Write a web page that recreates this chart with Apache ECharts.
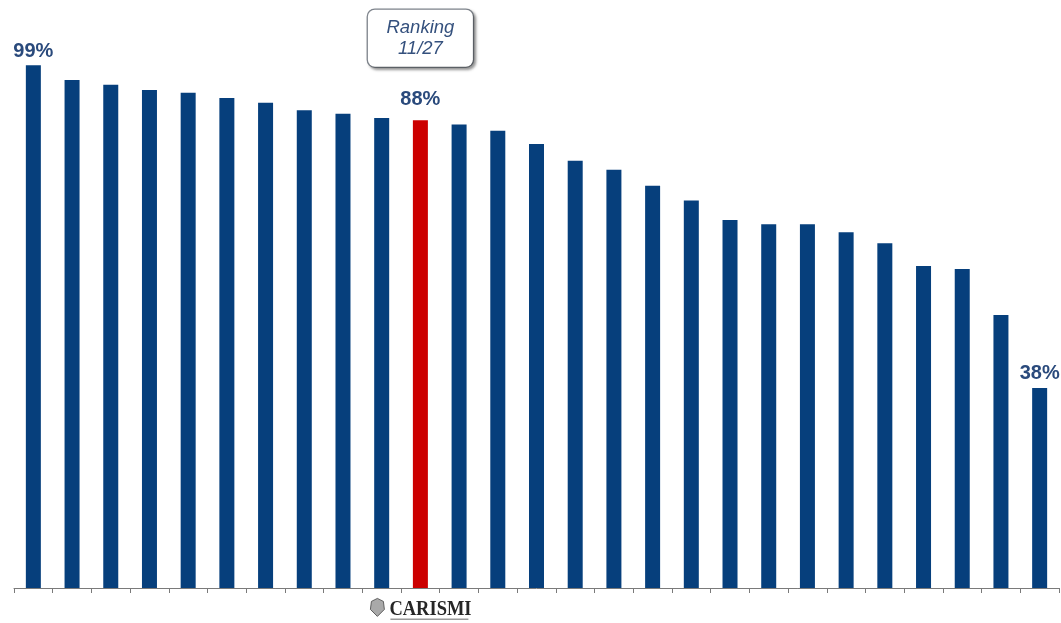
<!DOCTYPE html>
<html>
<head>
<meta charset="utf-8">
<script src="https://cdn.jsdelivr.net/npm/echarts@6/dist/echarts.min.js"></script>
<style>
  html, body { margin: 0; padding: 0; background: #fff; }
  #main { width: 1061px; height: 623px; }
</style>
</head>
<body>
<div id="main"></div>
<script>
// rank positions, 1 = best
var ranks = ['1', '2', '3', '4', '5', '6', '7', '8', '9', '10', '11', '12', '13', '14',
  '15', '16', '17', '18', '19', '20', '21', '22', '23', '24', '25', '26', '27'];
var values = [99.0, 96.2, 95.3, 94.3, 93.8, 92.8, 91.9, 90.5, 89.8, 89.0, 88.6, 87.8, 86.6, 84.1,
  80.9, 79.2, 76.2, 73.4, 69.7, 68.9, 68.9, 67.4, 65.3, 61.0, 60.4, 51.7, 37.9];
// shown labels (index -> text)
var shownLabels = { 0: '99%', 10: '88%', 26: '38%' };
var highlightIndex = 10;
var rankingText = ['Ranking', '11/27'];

var navy = '#063f7c';
var labelColor = '#2a4a7c';

var chartDom = document.getElementById('main');
var myChart = echarts.init(chartDom);

var barData = values.map(function (v, i) {
  var item = { value: v };
  if (i === highlightIndex) item.itemStyle = { color: '#cc0000' };
  if (shownLabels[i]) {
    item.label = {
      show: true,
      position: 'top',
      distance: i === highlightIndex ? 11 : 4,
      formatter: shownLabels[i]
    };
  }
  return item;
});

var option = {
  animation: false,
  grid: { left: 14, right: 2, top: 60, bottom: 35 },
  xAxis: {
    type: 'category',
    data: ranks,
    axisLine: { lineStyle: { color: '#7a7a7a', width: 1 } },
    axisTick: { show: true, interval: 0, length: 5, lineStyle: { color: '#7a7a7a' } },
    axisLabel: { show: false }
  },
  yAxis: {
    type: 'value',
    min: 0,
    max: 100,
    show: false,
    splitLine: { show: false }
  },
  series: [
    {
      type: 'bar',
      data: barData,
      barWidth: 15,
      itemStyle: { color: navy },
      label: {
        show: false,
        color: labelColor,
        fontFamily: 'Liberation Sans, Arial, sans-serif',
        fontWeight: 'bold',
        fontSize: 20
      },
      markPoint: {
        symbol: 'rect',
        symbolSize: 1,
        itemStyle: { color: 'rgba(0,0,0,0)' },
        data: [
          {
            coord: [highlightIndex, values[highlightIndex]],
            label: {
              show: true,
              position: 'top',
              offset: [0, -48],
              formatter: rankingText.join('\n'),
              fontFamily: 'Liberation Sans, Arial, sans-serif',
              fontStyle: 'italic',
              fontSize: 18.5,
              lineHeight: 21,
              color: '#34507d',
              align: 'center',
              backgroundColor: '#fff',
              borderColor: '#7f858d',
              borderWidth: 1.3,
              borderRadius: 7,
              width: 81,
              padding: [8, 12, 7, 12],
              shadowColor: 'rgba(0,0,0,0.35)',
              shadowBlur: 3,
              shadowOffsetX: 2,
              shadowOffsetY: 2
            }
          }
        ]
      }
    }
  ],
  graphic: [
    {
      type: 'group',
      left: 370,
      top: 598,
      children: [
        {
          type: 'polygon',
          shape: {
            points: [[3, 3], [9, 0], [15, 3], [16, 11], [9, 18], [2, 11]]
          },
          style: { fill: '#a9a9a9', stroke: '#444', lineWidth: 0.8 }
        },
        {
          type: 'text',
          x: 21,
          y: 0,
          scaleX: 0.84,
          style: {
            text: 'CARISMI',
            fontFamily: 'Liberation Serif, Times New Roman, serif',
            fontSize: 22,
            fontWeight: 'bold',
            fill: '#262626'
          }
        },
        {
          type: 'rect',
          shape: { x: 22, y: 20, width: 78, height: 1.5 },
          style: { fill: '#9a9a9a' }
        }
      ]
    }
  ]
};

myChart.setOption(option);
</script>
</body>
</html>
